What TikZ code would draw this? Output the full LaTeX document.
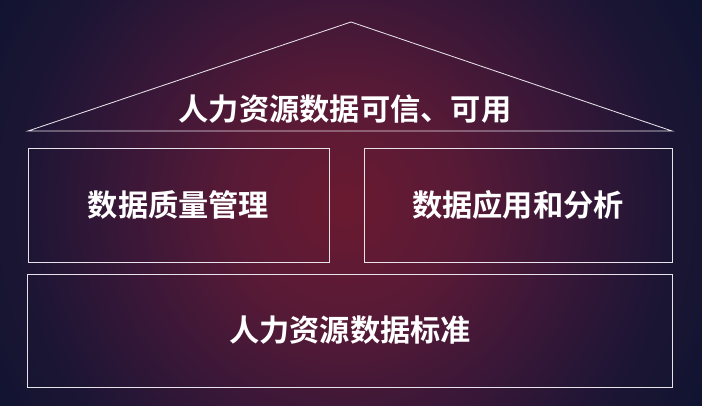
\documentclass[tikz,border=0pt]{standalone}
\usepackage{fontspec}
\newfontfamily\cjk{Noto Sans CJK SC Bold}
\usetikzlibrary{positioning}

\definecolor{glowred}{HTML}{6A1A30}
\definecolor{glowplum}{HTML}{581A36}
\definecolor{midplum}{HTML}{3A1738}
\definecolor{deepnavy}{HTML}{1C1534}
\definecolor{edgenavy}{HTML}{0F1430}
\definecolor{rimline}{HTML}{E8E2EA}

\pgfdeclareradialshading{bgglow}{\pgfpoint{0bp}{0bp}}{%
  color(0bp)=(glowred); color(6.5bp)=(glowplum); color(12.5bp)=(midplum);
  color(18.5bp)=(deepnavy); color(23.5bp)=(edgenavy); color(50bp)=(edgenavy)}

\begin{document}
\begin{tikzpicture}[x=0.025cm,y=-0.025cm,
    rim/.style={draw=rimline,line width=0.6pt},
    block/.style={rim,minimum height=2.85cm,inner sep=0pt},
    label/.style={text=white,font=\cjk\fontsize{21.5pt}{24pt}\selectfont,inner sep=0pt}]
  \useasboundingbox (0,0) rectangle (702,406);
  \begin{scope}
    \clip (0,0) rectangle (702,406);
    \shade[shading=bgglow] (345,205) circle [radius=11cm];
  \end{scope}

  \coordinate (eaveL) at (28,131);
  \coordinate (apex) at (351,22);
  \coordinate (eaveR) at (672,131);

  \draw[rim] (eaveL) -- (apex) -- (eaveR) -- cycle;

  \node[block,minimum width=7.525cm] (quality) at (178.5,205) {};
  \node[block,minimum width=7.7cm] (usage) at (518,205) {};
  \node[block,minimum width=16.1cm,minimum height=2.825cm] (standard) at (350,330.5) {};

  \node[label] (trust) at (345,109) {人力资源数据可信、可用};
  \node[label] at (quality) {数据质量管理};
  \node[label] at (usage) {数据应用和分析};
  \node[label] at (standard) {人力资源数据标准};
\end{tikzpicture}
\end{document}
